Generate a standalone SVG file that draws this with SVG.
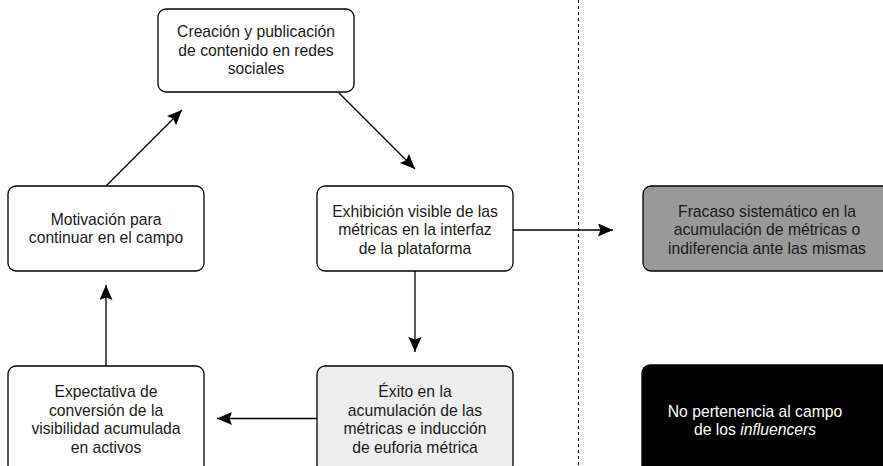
<svg xmlns="http://www.w3.org/2000/svg" width="883" height="466" viewBox="0 0 883 466">
<style>
.box{stroke:#000;stroke-width:1.3;fill:#fff}
.t{font-family:"Liberation Sans",Arial,Helvetica,sans-serif;font-size:15.7px;fill:#1a1a1a;text-anchor:middle}
.w{fill:#fff}
.c{stroke:#000;stroke-width:1.3;fill:none}
</style>
<defs>
<marker id="ah" markerUnits="userSpaceOnUse" markerWidth="16" markerHeight="14" refX="15" refY="6.5" orient="auto">
<path d="M0,0 L15,6.5 L0,13 L2.5,6.5 Z" fill="#000"/>
</marker>
</defs>
<rect x="0" y="0" width="883" height="466" fill="#fff"/>
<line x1="578.5" y1="0" x2="578.5" y2="466" stroke="#000" stroke-width="1" stroke-dasharray="3,3"/>
<g id="connectors">
<line class="c" x1="106.5" y1="185.5" x2="182" y2="110" marker-end="url(#ah)"/>
<line class="c" x1="339" y1="93" x2="415" y2="169" marker-end="url(#ah)"/>
<line class="c" x1="415" y1="271" x2="415" y2="352" marker-end="url(#ah)"/>
<line class="c" x1="317" y1="418.5" x2="217" y2="418.5" marker-end="url(#ah)"/>
<line class="c" x1="106" y1="366" x2="106" y2="285" marker-end="url(#ah)"/>
<line class="c" x1="513" y1="230" x2="613" y2="230" marker-end="url(#ah)"/>
</g>
<g id="creacion">
<rect class="box" x="158" y="9" width="196" height="83" rx="8"/>
<text class="t" x="256" y="37.3">Creación y publicación</text>
<text class="t" x="256" y="55.7">de contenido en redes</text>
<text class="t" x="256" y="74">sociales</text>
</g>
<g id="motivacion">
<rect class="box" x="8" y="186" width="196" height="85" rx="8"/>
<text class="t" x="106" y="224.8">Motivación para</text>
<text class="t" x="106" y="243.3">continuar en el campo</text>
</g>
<g id="exhibicion">
<rect class="box" x="317" y="186" width="196" height="85" rx="8"/>
<text class="t" x="415" y="216.5">Exhibición visible de las</text>
<text class="t" x="415" y="235">métricas en la interfaz</text>
<text class="t" x="415" y="253.5">de la plataforma</text>
</g>
<g id="fracaso">
<rect class="box" x="643" y="186" width="250" height="85" rx="8" style="fill:#999999"/>
<text class="t" x="767" y="216.5">Fracaso sistemático en la</text>
<text class="t" x="767" y="235">acumulación de métricas o</text>
<text class="t" x="767" y="253.5">indiferencia ante las mismas</text>
</g>
<g id="expectativa">
<rect class="box" x="8" y="366" width="196" height="107" rx="8"/>
<text class="t" x="106" y="397">Expectativa de</text>
<text class="t" x="106" y="415.7">conversión de la</text>
<text class="t" x="106" y="434.3">visibilidad acumulada</text>
<text class="t" x="106" y="453">en activos</text>
</g>
<g id="exito">
<rect class="box" x="317" y="366" width="196" height="107" rx="8" style="fill:#eeeeee"/>
<text class="t" x="415" y="397">Éxito en la</text>
<text class="t" x="415" y="415.7">acumulación de las</text>
<text class="t" x="415" y="434.3">métricas e inducción</text>
<text class="t" x="415" y="453">de euforia métrica</text>
</g>
<g id="no-pertenencia">
<rect class="box" x="642" y="365" width="250" height="110" rx="8" style="fill:#000"/>
<text class="t w" x="755" y="416.8">No pertenencia al campo</text>
<text class="t w" x="755" y="435.3">de los <tspan font-style="italic">influencers</tspan></text>
</g>
</svg>
